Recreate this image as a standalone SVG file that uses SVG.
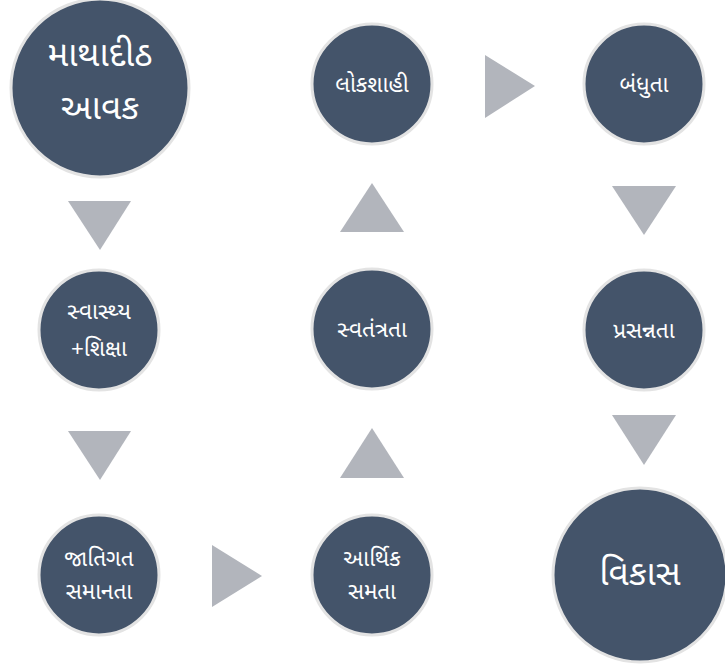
<svg xmlns="http://www.w3.org/2000/svg" width="725" height="671" viewBox="0 0 725 671">
<style>
.n{fill:#44546a;stroke:#e3e3e3;stroke-width:3}
.t{fill:#ffffff;font-family:"Noto Sans Gujarati","Noto Sans",sans-serif;text-anchor:middle;font-weight:400}
.s{font-size:22.5px}
.b{font-size:35px}
.a{fill:#b2b5bc}
</style>
<rect width="725" height="671" fill="#ffffff"/>
<g id="connectors">
<polygon class="a" points="68,201 131,201 100,250"/>
<polygon class="a" points="68,431 131,431 100,480"/>
<polygon class="a" points="212,545 262,576 212,607"/>
<polygon class="a" points="340,478 404,478 372,428"/>
<polygon class="a" points="340,232 404,232 372,183"/>
<polygon class="a" points="485,55 535,86 485,118"/>
<polygon class="a" points="612,186 676,186 644,235"/>
<polygon class="a" points="612,415 676,415 644,465"/>
</g>
<g id="n1"><circle class="n" cx="100" cy="88" r="89"/><text class="t b" x="100" y="66">માથાદીઠ</text><text class="t b" x="100" y="119">આવક</text></g>
<g id="n2"><circle class="n" cx="99" cy="330" r="60"/><text class="t s" x="99" y="319">સ્વાસ્થ્ય</text><text class="t s" x="99" y="356">+શિક્ષા</text></g>
<g id="n3"><circle class="n" cx="99" cy="575" r="60"/><text class="t s" x="99" y="566">જાતિગત</text><text class="t s" x="99" y="599">સમાનતા</text></g>
<g id="n4"><circle class="n" cx="372" cy="575" r="60"/><text class="t s" x="372" y="566">આર્થિક</text><text class="t s" x="372" y="599">સમતા</text></g>
<g id="n5"><circle class="n" cx="372" cy="329" r="60"/><text class="t s" x="372" y="337">સ્વતંત્રતા</text></g>
<g id="n6"><circle class="n" cx="372" cy="84" r="60"/><text class="t s" x="372" y="92">લોકશાહી</text></g>
<g id="n7"><circle class="n" cx="644" cy="84" r="60"/><text class="t s" x="644" y="92">બંધુતા</text></g>
<g id="n8"><circle class="n" cx="644" cy="330" r="60"/><text class="t s" x="644" y="338">પ્રસન્નતા</text></g>
<g id="n9"><circle class="n" cx="640" cy="575" r="87"/><text class="t b" x="640" y="585">વિકાસ</text></g>
</svg>
